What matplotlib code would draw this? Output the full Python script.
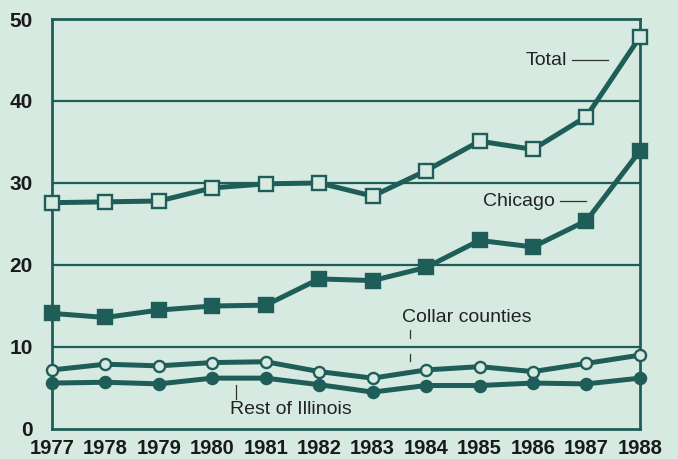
import matplotlib.pyplot as plt

years = [1977, 1978, 1979, 1980, 1981, 1982, 1983, 1984, 1985, 1986, 1987, 1988]
total = [27.6, 27.7, 27.8, 29.4, 29.9, 30.0, 28.4, 31.5, 35.1, 34.1, 38.1, 47.8]
chicago = [14.1, 13.6, 14.5, 15.0, 15.1, 18.3, 18.1, 19.7, 23.0, 22.2, 25.4, 33.9]
collar = [7.2, 7.9, 7.7, 8.1, 8.2, 7.0, 6.2, 7.2, 7.6, 7.0, 8.0, 9.0]
rest = [5.6, 5.7, 5.5, 6.2, 6.2, 5.4, 4.5, 5.3, 5.3, 5.6, 5.5, 6.2]
yticks = [0, 10, 20, 30, 40, 50]

bg = '#d6eae1'
teal = '#1f5e58'

plt.rcParams['font.family'] = ['Liberation Sans', 'DejaVu Sans']

fig = plt.figure(figsize=(6.78, 4.59), dpi=100)
fig.patch.set_facecolor(bg)
ax = fig.add_axes([0.0767, 0.0654, 0.867, 0.8932])
ax.set_facecolor(bg)

# gridlines
for v in yticks[1:]:
    ax.axhline(v, color=teal, lw=1.6, zorder=1)

def series(vals, marker, filled, ms):
    ax.plot(years, vals, color=teal, lw=3.6, marker=marker, ms=ms,
            mfc=teal if filled else bg, mec=teal, mew=1.7,
            clip_on=False, zorder=3)

series(total, 's', False, 10)
series(chicago, 's', True, 10)
series(collar, 'o', False, 8)
series(rest, 'o', True, 8)

ax.set_xlim(1977, 1988)
ax.set_ylim(0, 50)
ax.set_xticks(years)
ax.set_yticks(yticks)
ax.tick_params(length=0)
ax.tick_params(axis='y', pad=14, labelsize=15)
ax.tick_params(axis='x', pad=7, labelsize=14.5)
for lab in ax.get_xticklabels() + ax.get_yticklabels():
    lab.set_fontweight('bold')
    lab.set_color('#1a1a1a')
for s in ['left', 'bottom', 'right', 'top']:
    ax.spines[s].set_color(teal)
    ax.spines[s].set_linewidth(2.0)

# labels with leader lines
txt = dict(fontsize=14, color='#222222', va='center')
ax.text(1986.63, 45.0, 'Total', ha='right', **txt)
ax.plot([1986.73, 1987.40], [45.0, 45.0], color='#333333', lw=0.9)
ax.text(1986.41, 27.8, 'Chicago', ha='right', **txt)
ax.plot([1986.50, 1986.99], [27.8, 27.8], color='#333333', lw=0.9)
ax.text(1983.55, 13.6, 'Collar counties', ha='left', **txt)
ax.plot([1983.70, 1983.70], [12.1, 11.1], color='#333333', lw=0.9)
ax.plot([1983.70, 1983.70], [9.2, 8.3], color='#333333', lw=0.9)
ax.text(1980.33, 2.4, 'Rest of Illinois', ha='left', **txt)
ax.plot([1980.44, 1980.44], [5.4, 3.6], color='#333333', lw=0.9)

fig.savefig('out.png', dpi=100, facecolor=bg)
